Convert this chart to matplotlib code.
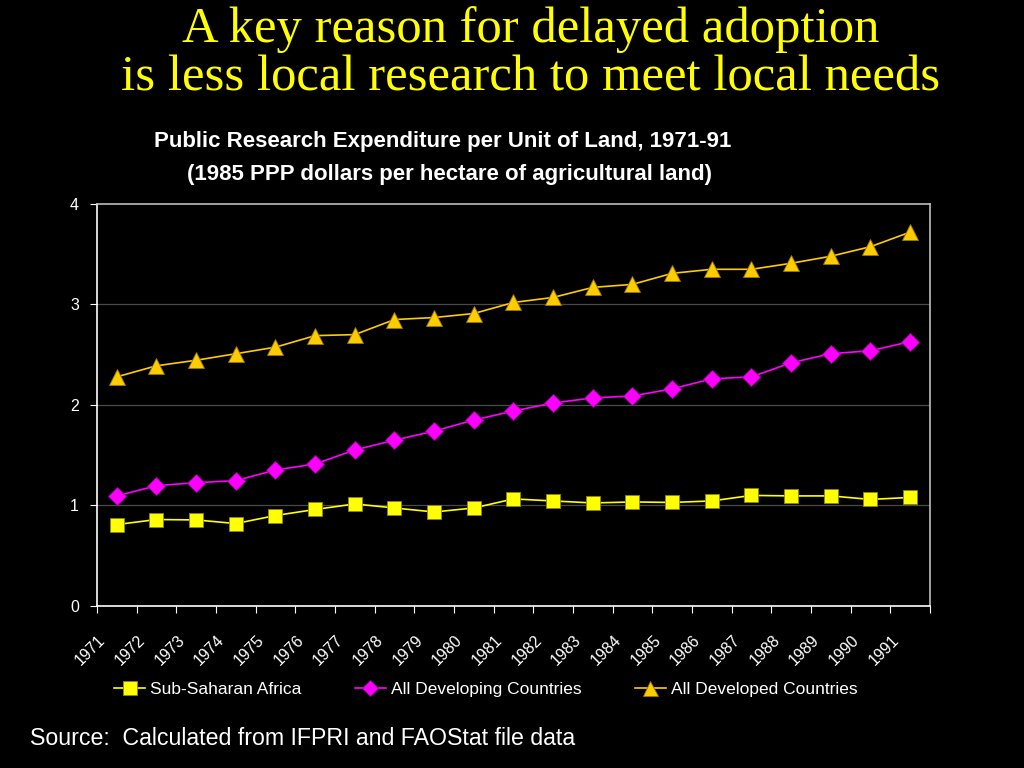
import numpy as np
import matplotlib
matplotlib.use("Agg")
import matplotlib.pyplot as plt
from matplotlib.transforms import ScaledTranslation

# Chart data
years = [str(y) for y in range(1971, 1992)]
sub_saharan = [0.81, 0.86, 0.856, 0.82, 0.90, 0.96, 1.015, 0.975, 0.935, 0.975, 1.065,
               1.045, 1.025, 1.035, 1.03, 1.045, 1.10, 1.095, 1.095, 1.06, 1.08]
developing = [1.095, 1.197, 1.227, 1.247, 1.353, 1.413, 1.552, 1.65, 1.74, 1.85, 1.94,
              2.02, 2.07, 2.09, 2.16, 2.26, 2.28, 2.42, 2.51, 2.54, 2.63]
developed = [2.28, 2.39, 2.445, 2.51, 2.575, 2.69, 2.70, 2.85, 2.87, 2.91, 3.02,
             3.07, 3.17, 3.20, 3.31, 3.35, 3.35, 3.41, 3.48, 3.575, 3.72]
series_names = ["Sub-Saharan Africa", "All Developing Countries", "All Developed Countries"]
y_ticks = [0, 1, 2, 3, 4]

plt.rcParams["font.family"] = ["Liberation Sans", "DejaVu Sans"]

fig = plt.figure(figsize=(10.24, 7.68), dpi=100, facecolor="black")
ax = fig.add_axes([0.0947, 0.211, 0.8135, 0.5234], facecolor="black")

x = np.arange(len(years))

# grid lines behind the data
for v in y_ticks[1:-1]:
    ax.axhline(v, color="#4a4a4a", lw=0.9, zorder=0)

ax.plot(x, sub_saharan, color="#FFFF00", lw=1.2, marker="s", markersize=10.5,
        markerfacecolor="#FFFF00", markeredgecolor="#8a8a00", markeredgewidth=0.6,
        label=series_names[0], zorder=3)
ax.plot(x, developing, color="#FF00FF", lw=1.2, marker="D", markersize=9,
        markerfacecolor="#FF00FF", markeredgecolor="#a000a0", markeredgewidth=0.6,
        label=series_names[1], zorder=3)
ax.plot(x, developed, color="#FFCC00", lw=1.2, marker="^", markersize=12,
        markerfacecolor="#FFCC00", markeredgecolor="#9a7a00", markeredgewidth=0.6,
        label=series_names[2], zorder=3)

ax.set_xlim(-0.5, len(years) - 0.5)
ax.set_ylim(0, 4)
ax.set_yticks(y_ticks)
ax.set_yticklabels([str(v) for v in y_ticks])

# category labels at centres, tick marks between categories
ax.set_xticks(x)
ax.set_xticklabels(years, rotation=45, ha="right", va="top", rotation_mode="anchor")
ax.set_xticks(np.arange(-0.5, len(years)), minor=True)
ax.tick_params(axis="x", which="major", length=0, pad=19, colors="white", labelsize=11.5)
ax.tick_params(axis="x", which="minor", length=5, color="white", width=0.8)
ax.tick_params(axis="y", length=5, color="white", width=0.8, pad=8,
               labelcolor="white", labelsize=11.5)
shift = ScaledTranslation(-19 / 100, 0, fig.dpi_scale_trans)
for lab in ax.get_xticklabels():
    lab.set_transform(lab.get_transform() + shift)

for side in ["left", "bottom"]:
    ax.spines[side].set_color("white")
    ax.spines[side].set_linewidth(1.2)
for side in ["top", "right"]:
    ax.spines[side].set_color("#bdbdbd")
    ax.spines[side].set_linewidth(1.2)

leg = ax.legend(loc="upper left", bbox_to_anchor=(0.012, -0.172), ncol=3, frameon=False,
                fontsize=12.5, handlelength=1.8, handletextpad=0.3, columnspacing=3.05,
                markerscale=0.9, borderaxespad=0)
for t in leg.get_texts():
    t.set_color("white")

# titles
fig.text(0.518, 0.961, "A key reason for delayed adoption", ha="center", va="center",
         color="#FFFF00", fontsize=36.5, family="Liberation Serif")
fig.text(0.518, 0.898, "is less local research to meet local needs", ha="center", va="center",
         color="#FFFF00", fontsize=36.5, family="Liberation Serif")
fig.text(0.432, 0.816, "Public Research Expenditure per Unit of Land, 1971-91",
         ha="center", va="center", color="white", fontsize=16, fontweight="bold")
fig.text(0.4385, 0.773, "(1985 PPP dollars per hectare of agricultural land)",
         ha="center", va="center", color="white", fontsize=16, fontweight="bold")
fig.text(0.029, 0.038, "Source:  Calculated from IFPRI and FAOStat file data",
         ha="left", va="center", color="white", fontsize=16.7)

fig.savefig("out.png", dpi=100, facecolor="black")
